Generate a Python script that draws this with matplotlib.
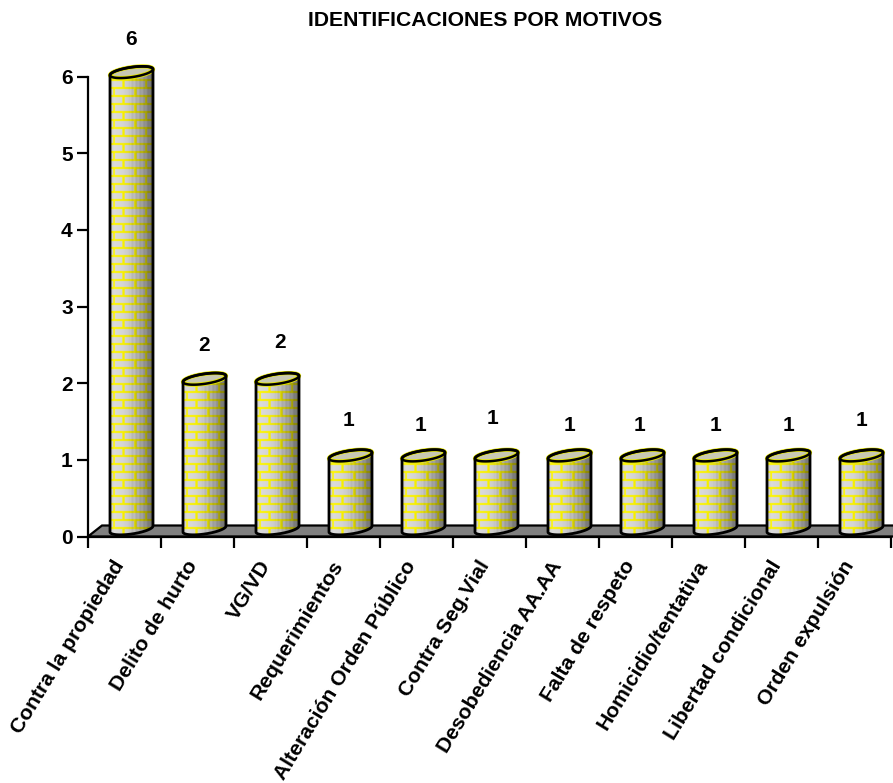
import numpy as np
import matplotlib
matplotlib.use("Agg")
import matplotlib.pyplot as plt
from matplotlib.path import Path
from matplotlib.patches import PathPatch, Polygon

plt.rcParams['font.family'] = ['Liberation Sans', 'DejaVu Sans']

categories = ["Contra la propiedad", "Delito de hurto", "VG/VD", "Requerimientos",
              "Alteración Orden Público", "Contra Seg.Vial", "Desobediencia AA.AA",
              "Falta de respeto", "Homicidio/tentativa", "Libertad condicional",
              "Orden expulsión"]
values = [6, 2, 2, 1, 1, 1, 1, 1, 1, 1, 1]
label_shift_x_px = [0, 0, 3, -2, -2.5, -3.5, 0, -3, 0, 0, 0]
label_shift_y_px = [0, 0, 3, 2.3, -2.7, 4.3, -2.7, -2.7, -2.7, -2.7, 2]
title = "IDENTIFICACIONES POR MOTIVOS"

W, H = 893, 783
AX_L, AX_R, AX_T, AX_B = 88, 891, 76.5, 536.5

fig = plt.figure(figsize=(W / 100, H / 100), dpi=100, facecolor='white')
ax = fig.add_axes([AX_L / W, 1 - AX_B / H, (AX_R - AX_L) / W, (AX_B - AX_T) / H])
ax.set_xlim(0, len(values))
ax.set_ylim(0, 6)
ax.set_facecolor('none')
px_x = len(values) / (AX_R - AX_L)
px_y = 6 / (AX_B - AX_T)

for s in ('top', 'right'):
    ax.spines[s].set_visible(False)
for s in ('left', 'bottom'):
    ax.spines[s].set_linewidth(1.6)
    ax.spines[s].set_zorder(6)

# floor
floor = Polygon([(0, 0), (14 * px_x, 11 * px_y), (len(values) + 5 * px_x, 11 * px_y),
                 (len(values) + 5 * px_x, 0)],
                closed=True, facecolor='#808080', edgecolor='black', lw=1.6,
                clip_on=False, zorder=1)
ax.add_patch(floor)


def texture(w_px, h_px):
    """Cylinder-wrapped yellow brick wall, shaded left to right."""
    sc = 3
    nx, ny = w_px * sc, h_px * sc
    xn = (np.arange(nx) + 0.5) / nx * 2 - 1
    u = np.arcsin(np.clip(xn, -1, 1)) / (np.pi / 2)
    yy = np.arange(ny)[::-1] / sc
    row_h = 8.0
    row = np.floor(yy / row_h).astype(int)
    in_row = yy % row_h
    period = 0.72
    img = np.zeros((ny, nx, 3))
    shade = np.interp(xn, [-1, -0.8, -0.4, 0.1, 0.6, 1], [0.92, 1.0, 0.97, 0.88, 0.70, 0.48])
    stripes = 1 - 0.06 * (np.floor(np.arange(nx) / (2 * sc)) % 2) * (xn > -0.1)
    for j in range(ny):
        phase = (u + 1 + (row[j] % 2) * period / 2) % period
        mortar = (in_row[j] < 2.0) | (phase < 0.075)
        base = np.where(mortar[:, None], np.array([[1.0, 0.97, 0.0]]), np.array([[0.86, 0.86, 0.86]]))
        img[j] = base * (shade * stripes)[:, None]
    return np.clip(img, 0, 1)


t = np.linspace(0, 2 * np.pi, 100)
half_w_px, half_h_px, tilt_px, rise_px = 21.5, 5.0, 3.0, 7.5

for i, v in enumerate(values):
    cx = i + 0.5 + 7 * px_x
    hw = half_w_px * px_x
    b0 = rise_px * px_y
    top = v + 4.3 * px_y
    bot = 0.0 + b0
    ex = hw * np.cos(t)
    ey = half_h_px * px_y * np.sin(t) + tilt_px * px_y * np.cos(t)

    t_low = np.linspace(np.pi, 2 * np.pi, 50)
    t_up = np.linspace(0, np.pi, 50)
    xs = np.r_[cx + hw * np.cos(t_low), cx + hw * np.cos(t_up)]
    ys = np.r_[bot + half_h_px * px_y * np.sin(t_low) + tilt_px * px_y * np.cos(t_low),
               top + half_h_px * px_y * np.sin(t_up) + tilt_px * px_y * np.cos(t_up)]
    verts = np.c_[xs, ys]
    body = PathPatch(Path(np.r_[verts, verts[:1]], closed=True), facecolor='none',
                     edgecolor='black', lw=2.0, clip_on=False, zorder=5)
    ax.add_patch(body)

    h_px = int(round((top - bot) / px_y + 2 * half_h_px + 6))
    tex = texture(44, h_px)
    y0 = bot - (half_h_px + 3) * px_y
    im = ax.imshow(tex, extent=[cx - hw, cx + hw, y0, y0 + h_px * px_y], aspect='auto',
                   interpolation='bilinear', zorder=3)
    clip = PathPatch(Path(np.r_[verts, verts[:1]], closed=True), transform=ax.transData,
                     facecolor='none', edgecolor='none')
    im.set_clip_path(clip)
    im.set_clip_box(fig.bbox)

    cap_v = np.c_[cx + ex, top + ey]
    cap = Polygon(cap_v, closed=True, facecolor='#c8c8b4', edgecolor='#e6e600', lw=3.0,
                  clip_on=False, zorder=4)
    ax.add_patch(cap)
    rim = Polygon(cap_v, closed=True, facecolor='none', edgecolor='black', lw=1.8,
                  clip_on=False, zorder=5)
    ax.add_patch(rim)

    ax.text(cx + label_shift_x_px[i] * px_x,
            v + (37.5 + label_shift_y_px[i]) * px_y,
            str(v), ha='center', va='center', fontsize=15, fontweight='bold', clip_on=False)

ax.set_xticks(np.arange(len(values) + 1))
ax.set_xticklabels([])
ax.set_yticks(range(7))
ax.tick_params(axis='y', length=8, width=1.6, labelsize=15, pad=3)
ax.tick_params(axis='x', length=8, width=1.6)
ax.set_axisbelow(False)
for lab in ax.get_yticklabels():
    lab.set_fontweight('bold')

for i, c in enumerate(categories):
    ax.annotate(c, xy=(i + 0.5, 0), xycoords='data', xytext=(-9, -15),
                textcoords='offset points', rotation=58.5, rotation_mode='anchor',
                ha='right', va='top', fontsize=15.2, fontweight='bold',
                annotation_clip=False)

fig.text(485.5 / W, 1 - 20 / H, title, ha='center', va='center', fontsize=15.2, fontweight='bold')

fig.savefig('out.png', dpi=100)
